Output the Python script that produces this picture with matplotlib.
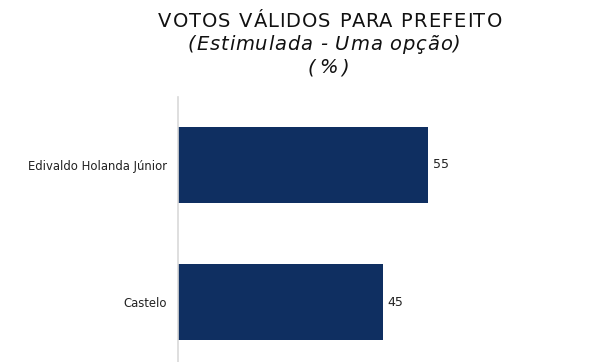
import matplotlib.pyplot as plt
from matplotlib.font_manager import FontProperties

candidatos = ["Edivaldo Holanda Júnior", "Castelo"]
votos = [55, 45]

BAR_COLOR = "#0f2f61"
TEXT_COLOR = "#111111"

fig = plt.figure(figsize=(6, 3.62), dpi=100)
ax = fig.add_axes([178 / 600, -8.5 / 362, 422 / 600, 274 / 362])

pos = list(range(len(candidatos)))
ax.barh(pos, votos, height=0.56, color=BAR_COLOR)
ax.set_ylim(1.5, -0.5)
ax.set_xlim(0, 92.8)

for p, v in zip(pos, votos):
    ax.text(v + 1, p, str(v), va="center", ha="left", fontsize=9, color="#222222")

ax.set_yticks(pos)
ax.set_yticklabels(candidatos, fontsize=8.4, color="#222222")
ax.tick_params(axis="y", length=0, pad=8)
ax.set_xticks([])
for side in ["top", "right", "bottom"]:
    ax.spines[side].set_visible(False)
ax.spines["left"].set_color("#d9d9d9")
ax.spines["left"].set_linewidth(1.2)


def spaced_text(s, xc, yb, size, style, tracking):
    # titulo com espacamento entre letras, centrado em xc (pixels)
    renderer = fig.canvas.get_renderer()
    prop = FontProperties(size=size, style=style)

    def width(t):
        w, _, _ = renderer.get_text_width_height_descent(t, prop, ismath=False)
        return w

    wx = width("x")
    offsets = [0.0] + [width(s[:i] + "x") - wx + i * tracking for i in range(1, len(s))]
    total = width(s) + (len(s) - 1) * tracking
    left = xc - total / 2
    for ch, off in zip(s, offsets):
        fig.text((left + off) / 600, 1 - yb / 362, ch, ha="left", va="baseline",
                 fontproperties=prop, color=TEXT_COLOR)


fig.canvas.draw()
spaced_text("VOTOS VÁLIDOS PARA PREFEITO", 330, 27, 14, "normal", 1.1)
spaced_text("(Estimulada - Uma opção)", 324, 50, 14, "italic", 0.8)
spaced_text("(%)", 328, 73, 14, "italic", 3.5)

fig.savefig("out.png", dpi=100)
